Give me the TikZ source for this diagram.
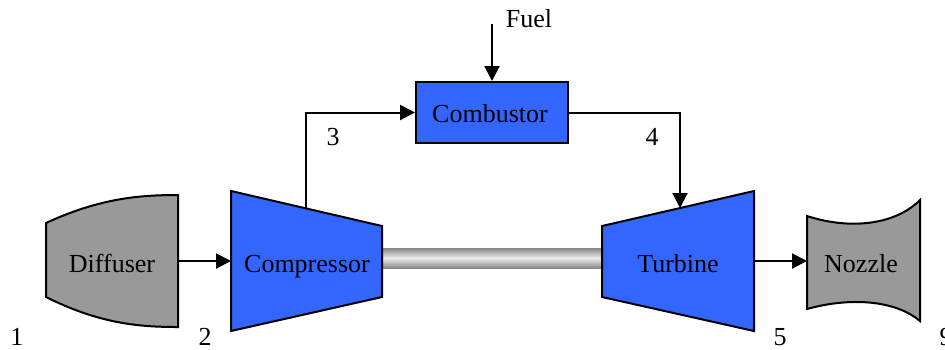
\documentclass[tikz,border=0pt]{standalone}
\usepackage{fontspec}
\setmainfont{Liberation Serif}
\usetikzlibrary{arrows.meta}
\definecolor{partblue}{HTML}{3366FF}
\definecolor{partgray}{HTML}{999999}
\tikzset{
  part/.style={draw=black, line width=1pt, line join=miter},
  bluepart/.style={part, fill=partblue},
  graypart/.style={part, fill=partgray},
  lbl/.style={font=\fontsize{13}{15}\selectfont, inner sep=0pt, anchor=base},
  flow/.style={line width=1pt, -{Triangle[length=7.5pt,width=7.5pt]}},
}
\begin{document}
\begin{tikzpicture}[x=0.5pt, y=-0.5pt]
\useasboundingbox (0,0) rectangle (945,349);

% shaft between compressor and turbine
\shade[top color=gray!95, bottom color=gray!95, middle color=gray!15]
  (382,248) rectangle (602,268);

% diffuser
\draw[graypart] (46,223) .. controls (100,198) and (140,195) .. (178,195)
  -- (178,327) .. controls (140,327) and (100,324) .. (46,297) -- cycle;
\node[lbl] (diffuser) at (112,272) {Diffuser};

% compressor
\draw[bluepart] (231,191) -- (382,226) -- (382,297) -- (231,331) -- cycle;
\node[lbl] (compressor) at (307,272) {Compressor};

% turbine
\draw[bluepart] (602,226) -- (754,191) -- (754,331) -- (602,297) -- cycle;
\node[lbl] (turbine) at (678,272) {Turbine};

% nozzle
\draw[graypart] (807,216) .. controls (850,230) and (895,225) .. (920,200)
  -- (920,321) .. controls (895,300) and (850,297) .. (807,309) -- cycle;
\node[lbl] (nozzle) at (861,272) {Nozzle};

% combustor
\node[bluepart, minimum width=76pt, minimum height=30.5pt, inner sep=0pt]
  (combustor) at (492,112.5) {};
\node[lbl] (combtext) at (490,122) {Combustor};

% connection points on the component outlines
\coordinate (diffout) at (178,261);
\coordinate (compin) at (231,261);
\coordinate (comptop) at (306,208);
\coordinate (turbtop) at (680,208);
\coordinate (turbout) at (754,261);
\coordinate (nozin) at (807,261);
\coordinate (fuelsrc) at (492,24);

% flow connectors
\draw[flow] (diffout) -- (compin);
\draw[flow] (comptop) |- (combustor.west);
\draw[flow] (combustor.east) -| (turbtop);
\draw[flow] (fuelsrc) -- (combustor.north);
\draw[flow] (turbout) -- (nozin);

% labels
\node[lbl] (fuel) at (529,27) {Fuel};
\node[lbl] (st1) at (17,345) {1};
\node[lbl] (st2) at (205,345) {2};
\node[lbl] (st3) at (333,145) {3};
\node[lbl] (st4) at (652,145) {4};
\node[lbl] (st5) at (780,345) {5};
\node[lbl] (st9) at (946,345) {9};
\end{tikzpicture}
\end{document}
